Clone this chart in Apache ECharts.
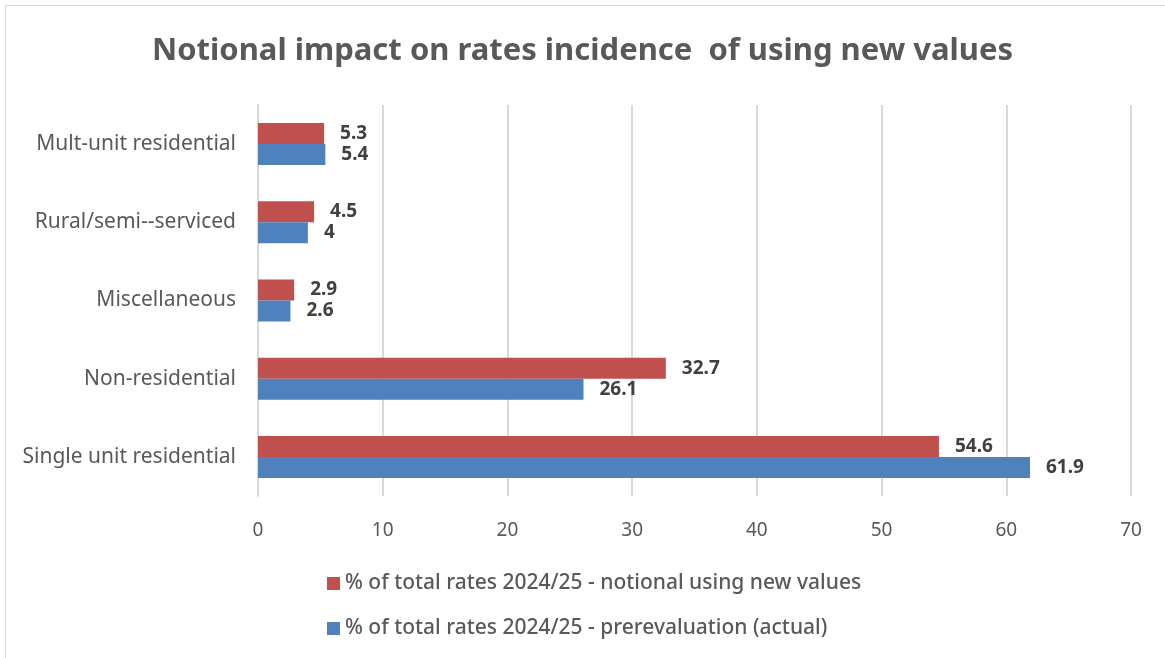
<!DOCTYPE html>
<html><head><meta charset="utf-8">
<script src="https://cdn.jsdelivr.net/npm/echarts@6/dist/echarts.min.js"></script>
<style>html,body{margin:0;padding:0;background:#fff}
#frame{position:absolute;left:5px;top:5px;width:1165px;height:660px;border:1px solid #d9d9d9;box-sizing:border-box}
#c{position:absolute;left:0;top:0;width:1165px;height:658px}</style>
</head><body><div id="frame"></div><div id="c"></div>
<script>
var categories = ['Single unit residential','Non-residential','Miscellaneous','Rural/semi--serviced','Mult-unit residential'];
var notional = [54.6, 32.7, 2.9, 4.5, 5.3];
var actual = [61.9, 26.1, 2.6, 4, 5.4];
var seriesNames = ['% of total rates 2024/25 - notional using new values','% of total rates 2024/25 - prerevaluation (actual)'];
var xTicks = {min:0, max:70, interval:10};

var chart = echarts.init(document.getElementById('c'));
var font = 'Noto Sans';
var lbl = {show:true, position:'right', distance:16, fontFamily:font, fontSize:19, fontWeight:'bold', color:'#404040'};
chart.setOption({
  animation:false,
  title:{text:'Notional impact on rates incidence  of using new values', left:'center', top:31,
    textStyle:{fontFamily:font, fontSize:31, fontWeight:'bold', color:'#595959'}},
  legend:{orient:'vertical', left:322, top:568, itemGap:24, itemWidth:13, itemHeight:13, icon:'rect',
    textStyle:{fontFamily:font, fontSize:21, fontWeight:500, color:'#595959'}, data:seriesNames},
  grid:{left:258, right:34, top:105, bottom:162},
  xAxis:{type:'value', min:xTicks.min, max:xTicks.max, interval:xTicks.interval,
    axisLabel:{fontFamily:font, fontSize:19, color:'#595959', margin:25},
    splitLine:{lineStyle:{color:'#d9d9d9', width:2}}, axisLine:{show:false}, axisTick:{show:false}},
  yAxis:{type:'category', data:categories,
    axisLabel:{fontFamily:font, fontSize:21, color:'#595959', margin:22},
    axisLine:{show:true, lineStyle:{color:'#d9d9d9', width:2}}, axisTick:{show:false}},
  series:[
    {name:seriesNames[0], type:'bar', data:notional, barWidth:21, barGap:'0%', itemStyle:{color:'#C0504D'}, label:lbl, z:2},
    {name:seriesNames[1], type:'bar', data:actual, barWidth:21, barGap:'0%', itemStyle:{color:'#4F81BD'}, label:lbl, z:2}
  ]
});
</script></body></html>
